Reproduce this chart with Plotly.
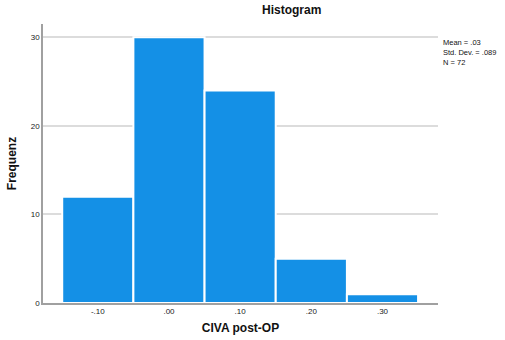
import plotly.graph_objects as go

# Histogram bins (bin centres) and their frequencies
bin_centers = [-0.10, 0.00, 0.10, 0.20, 0.30]
frequencies = [12, 30, 24, 5, 1]
x_tick_labels = ["-.10", ".00", ".10", ".20", ".30"]
y_ticks = [0, 10, 20, 30]
stats_lines = ["Mean = .03", "Std. Dev. = .089", "N = 72"]

BAR_COLOR = "#1490e6"
AXIS_COLOR = "#a0a0a0"
GRID_COLOR = "#dcdcdc"
FONT = "Liberation Sans, Arial, sans-serif"

W, H = 505, 340
M_L, M_R, M_T, M_B = 43, 67, 24, 37
PLOT_H = H - M_T - M_B


def paper_y(px_from_top):
    """Convert a pixel row of the page into a paper y coordinate."""
    return (H - M_B - px_from_top) / PLOT_H


fig = go.Figure(
    go.Bar(
        x=bin_centers,
        y=frequencies,
        width=0.1,
        marker=dict(color=BAR_COLOR, line=dict(color="white", width=2)),
        hoverinfo="x+y",
    )
)

annotations = [
    dict(
        text="<b>Histogram</b>",
        xref="paper", yref="paper",
        x=(291 - M_L) / (W - M_L - M_R), y=1.0,
        xanchor="center", yanchor="bottom",
        yshift=5,
        showarrow=False,
        font=dict(size=12, family=FONT, color="#111111"),
    ),
    # statistics block to the right of the plot
    dict(
        text="<br>".join(stats_lines),
        xref="paper", yref="paper",
        x=1.0, y=paper_y(36.5),
        xanchor="left", yanchor="top",
        xshift=4,
        align="left",
        showarrow=False,
        borderpad=0,
        font=dict(size=7.5, family=FONT, color="#111111"),
    ),
]

fig.update_layout(
    width=W,
    height=H,
    margin=dict(l=M_L, r=M_R, t=M_T, b=M_B),
    paper_bgcolor="white",
    plot_bgcolor="white",
    showlegend=False,
    font=dict(family=FONT, color="#222222"),
    annotations=annotations,
)

fig.update_xaxes(
    range=[-0.177, 0.378],
    automargin=False,
    tickmode="array",
    tickvals=bin_centers,
    ticktext=x_tick_labels,
    ticks="",
    showgrid=False,
    showline=True,
    linecolor=AXIS_COLOR,
    linewidth=1.5,
    zeroline=False,
    tickfont=dict(size=8, family=FONT, color="#222222"),
    title=dict(
        text="<b>CIVA post-OP</b>",
        font=dict(size=12, family=FONT, color="#111111"),
        standoff=8,
    ),
)

fig.update_yaxes(
    range=[0, 31.5],
    automargin=False,
    tickmode="array",
    tickvals=y_ticks,
    ticks="",
    showgrid=True,
    gridcolor=GRID_COLOR,
    gridwidth=1.5,
    showline=True,
    linecolor=AXIS_COLOR,
    linewidth=1.5,
    zeroline=False,
    tickfont=dict(size=8, family=FONT, color="#222222"),
    title=dict(
        text="<b>Frequenz</b>",
        font=dict(size=12, family=FONT, color="#111111"),
        standoff=12,
    ),
)

fig.write_html("out.html")
